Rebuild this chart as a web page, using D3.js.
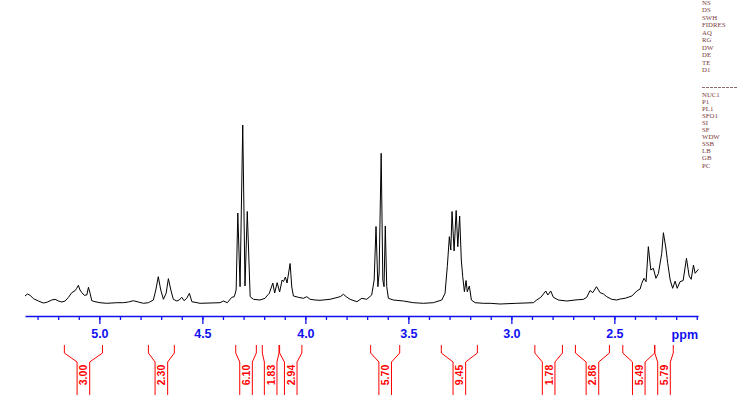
<!DOCTYPE html>
<html><head><meta charset="utf-8">
<script src="https://cdn.jsdelivr.net/npm/d3@7/dist/d3.min.js"></script>
<style>html,body{margin:0;padding:0;background:#fff;}svg{display:block;}</style>
</head><body>
<svg id="c" width="738" height="420"></svg>
<script>
// Spectrum points: chemical shift (ppm) and intensity (arbitrary units)
const ppm = [5.361,5.349,5.336,5.320,5.296,5.272,5.255,5.231,5.215,5.199,5.182,5.166,5.150,5.134,5.118,5.110,5.102,5.094,5.085,5.073,5.061,5.053,5.045,5.037,5.021,4.997,4.964,4.915,4.883,4.859,4.835,4.811,4.786,4.762,4.738,4.726,4.714,4.702,4.689,4.676,4.665,4.653,4.641,4.624,4.612,4.600,4.589,4.576,4.563,4.551,4.511,4.463,4.414,4.398,4.379,4.357,4.345,4.336,4.328,4.317,4.304,4.293,4.282,4.268,4.252,4.220,4.196,4.187,4.175,4.158,4.149,4.137,4.125,4.113,4.106,4.097,4.089,4.074,4.066,4.058,4.034,4.010,3.993,3.977,3.953,3.929,3.880,3.831,3.815,3.802,3.783,3.750,3.726,3.702,3.678,3.666,3.657,3.648,3.642,3.632,3.624,3.618,3.612,3.605,3.597,3.573,3.524,3.476,3.427,3.379,3.338,3.322,3.311,3.301,3.294,3.288,3.278,3.268,3.260,3.251,3.243,3.236,3.228,3.220,3.214,3.204,3.194,3.176,3.136,3.103,3.055,2.974,2.893,2.877,2.857,2.833,2.823,2.809,2.796,2.772,2.731,2.691,2.650,2.634,2.618,2.605,2.587,2.569,2.553,2.537,2.513,2.488,2.472,2.448,2.415,2.391,2.375,2.367,2.356,2.346,2.335,2.323,2.311,2.298,2.286,2.270,2.262,2.250,2.241,2.229,2.217,2.205,2.195,2.181,2.166,2.150,2.137,2.127,2.116,2.108,2.092];
const intensity = [20,22,20.7,17.3,15,13,13.7,16,16.7,15,14,15,18.7,23.3,25.3,27.7,30.7,26,23.3,20.7,21,28.7,22.7,15.3,14.3,13.3,12.7,13.3,13.3,14,15.3,14,12.7,13.3,16,26,39.3,26,16.7,22.7,37.3,26,16.7,15,16,18.7,15.3,17.7,22.7,14.3,12.7,13,13.3,15,13.3,18.7,19.3,26,103,29.3,191,30,104.5,19.3,16.7,16,17.7,20,22.7,33,23,33.3,24,36,34.5,39,33,52.5,29,20,18.7,17.7,19.3,16.7,16,15.7,16.7,19.3,21.7,19.3,16.7,14.3,17.7,16.7,21,36,89.5,29.3,43,162.7,36,29.3,90,29.3,17.7,16,15,13.3,12.7,13.3,16,22.7,49.3,79.3,66,104.5,65,105.5,69.3,100,56,39.3,24.3,35.5,24.3,30,16,13.3,12.7,12.7,12,12.7,13.3,16,18.7,25,21,25,18.7,16,15,16,16.7,18.7,25.5,23.3,29.3,23.3,22,19.3,16.7,16,17,17.7,20,25,27,32.7,37.7,34.3,69.3,46,47.7,37.7,42.7,62.7,83.3,68,52.7,36,27.7,34.8,27.7,34.3,35.5,57.7,40,36.7,51,42.7,46.7];

// Axis ticks
const majorTicks = [5.0,4.5,4.0,3.5,3.0,2.5];
const minorTicks = [5.3,5.2,5.1,5.0,4.9,4.8,4.7,4.6,4.5,4.4,4.3,4.2,4.1,4.0,3.9,3.8,3.7,3.6,3.5,3.4,3.3,3.2,3.1,3.0,2.9,2.8,2.7,2.6,2.5,2.4,2.3,2.2,2.1];

// Integral regions (ppm) and values
const intFrom = [5.170,4.762,4.338,4.209,4.125,3.683,3.340,2.886,2.689,2.459,2.304];
const intTo   = [4.985,4.636,4.238,4.128,4.017,3.542,3.165,2.752,2.524,2.304,2.214];
const intVal  = ["3.00","2.30","6.10","1.83","2.94","5.70","9.45","1.78","2.86","5.49","5.79"];

// Acquisition / processing parameter labels
const paramsTop = ["NS","DS","SWH","FIDRES","AQ","RG","DW","DE","TE","D1"];
const paramsBottom = ["NUC1","P1","PL1","SFO1","SI","SF","WDW","SSB","LB","GB","PC"];

const svg = d3.select("#c");
const x = d3.scaleLinear().domain([5.361, 2.094]).range([25, 698]);
const y = d3.scaleLinear().domain([0, 200]).range([316, 116]);

// Spectrum
const pts = ppm.map((p,i)=>[p,intensity[i]]);
svg.append("path").datum(pts)
  .attr("fill","none").attr("stroke","#000").attr("stroke-width",1)
  .attr("stroke-linejoin","round")
  .attr("d", d3.line().x(d=>x(d[0])).y(d=>y(d[1])));

// Axis
const axisY = 316;
const blue = "#1010f0";
const gMinor = svg.append("g").attr("transform",`translate(0,${axisY})`)
  .call(d3.axisBottom(x).tickValues(minorTicks).tickSize(4).tickSizeOuter(0).tickFormat(""));
gMinor.selectAll("path,line").attr("stroke",blue).attr("stroke-width",1.3);
const gMajor = svg.append("g").attr("transform",`translate(0,${axisY})`)
  .call(d3.axisBottom(x).tickValues(majorTicks).tickSize(8).tickSizeOuter(0).tickPadding(5).tickFormat(d3.format(".1f")));
gMajor.select("path").remove();
gMajor.selectAll("line").attr("stroke",blue).attr("stroke-width",1.3);
gMajor.selectAll("text").attr("fill",blue).attr("font-family","'Liberation Sans',Arial,sans-serif")
  .attr("font-size",12.5).attr("font-weight","bold");
svg.append("text").attr("x",x.range()[1]).attr("y",axisY+23).attr("text-anchor","end")
  .attr("fill",blue).attr("font-family","'Liberation Sans',Arial,sans-serif")
  .attr("font-size",12.5).attr("font-weight","bold").text("ppm");

// Integrals
const red = "#ff0000";
const yTop = 345, yK1 = 353, yK2 = 362, yBot = 395, halfIn = 6.3;
const gi = svg.append("g");
intVal.forEach((v,i)=>{
  const a = x(intFrom[i]), b = x(intTo[i]), c = (a+b)/2;
  const l = c - halfIn, r = c + halfIn;
  gi.append("path").attr("fill","none").attr("stroke",red).attr("stroke-width",1)
    .attr("d",`M${a},${yTop}L${a},${yK1}L${l},${yK2}L${l},${yBot}`);
  gi.append("path").attr("fill","none").attr("stroke",red).attr("stroke-width",1)
    .attr("d",`M${b},${yTop}L${b},${yK1}L${r},${yK2}L${r},${yBot}`);
  gi.append("text").attr("transform",`translate(${c+4},375) rotate(-90)`)
    .attr("text-anchor","middle").attr("fill",red)
    .attr("font-family","'Liberation Sans',Arial,sans-serif").attr("font-size",10.5).attr("font-weight","bold")
    .text(v);
});

// Parameter list
const pCol = "#7a3a3a";
const gp = svg.append("g").attr("font-family","'Liberation Serif','DejaVu Serif',serif").attr("font-size",6.8).attr("fill",pCol);
paramsTop.forEach((t,i)=>gp.append("text").attr("x",702).attr("y",5+i*7.45).attr("textLength",null).text(t));
svg.append("line").attr("x1",702).attr("x2",738).attr("y1",87.5).attr("y2",87.5)
  .attr("stroke","#8a6a6a").attr("stroke-width",1).attr("stroke-dasharray","3,1");
paramsBottom.forEach((t,i)=>gp.append("text").attr("x",702).attr("y",96.5+i*7.1).text(t));
</script>
</body></html>
